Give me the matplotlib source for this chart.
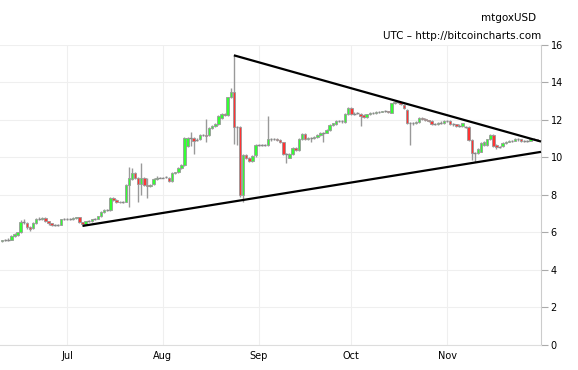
import datetime
import matplotlib
matplotlib.use("Agg")
import matplotlib.pyplot as plt
import matplotlib.dates as mdates
import pandas as pd

# daily candles, mtgoxUSD, starting 10 Jun 2012
start_day = "2012-06-10"

opens = [5.55, 5.58, 5.60, 5.62, 5.80, 5.85, 6.00, 6.55, 6.50, 6.30,
         6.25, 6.50, 6.70, 6.72, 6.75, 6.60, 6.48, 6.40, 6.38, 6.40,
         6.70, 6.70, 6.72, 6.72, 6.75, 6.80, 6.55, 6.45, 6.60, 6.62,
         6.70, 6.72, 6.88, 7.10, 7.20, 7.20, 7.85, 7.75, 7.65, 7.60,
         7.65, 8.55, 8.85, 9.17, 8.90, 8.60, 8.90, 8.55, 8.50, 8.60,
         8.85, 8.93, 8.93, 8.95, 8.93, 8.75, 9.15, 9.20, 9.45, 9.60,
         10.60, 11.04, 11.04, 10.95, 11.00, 11.20, 11.20, 11.20, 11.55, 11.70,
         11.80, 12.10, 12.30, 12.27, 13.20, 13.50, 11.65, 11.63, 8.00, 10.13,
         9.95, 9.80, 10.13, 10.67, 10.67, 10.67, 10.67, 10.97, 10.97, 10.98,
         10.93, 10.80, 10.17, 9.99, 10.20, 10.50, 10.40, 11.00, 11.25, 11.00,
         11.05, 11.05, 11.10, 11.20, 11.33, 11.33, 11.47, 11.73, 11.77, 11.95,
         11.93, 11.91, 12.32, 12.62, 12.32, 12.35, 12.32, 12.25, 12.15, 12.30,
         12.35, 12.35, 12.42, 12.43, 12.46, 12.46, 12.39, 12.89, 12.94, 12.94,
         12.80, 12.53, 11.82, 11.82, 11.82, 11.90, 12.10, 12.06, 11.98, 11.94,
         11.80, 11.78, 11.85, 11.82, 11.95, 11.95, 11.77, 11.77, 11.70, 11.68,
         11.64, 11.64, 10.93, 10.25, 10.22, 10.31, 10.67, 10.67, 10.97, 11.20,
         10.67, 10.55, 10.60, 10.75, 10.84, 10.88, 10.90, 10.97, 10.97, 10.86,
         10.88, 10.90, 10.97, 10.97]

highs = [5.62, 5.65, 5.68, 5.85, 5.95, 6.05, 6.65, 6.70, 6.55, 6.35,
         6.55, 6.75, 6.80, 6.80, 6.80, 6.62, 6.50, 6.45, 6.45, 6.72,
         6.75, 6.75, 6.78, 6.80, 6.85, 6.82, 6.56, 6.62, 6.66, 6.74,
         6.76, 6.90, 7.12, 7.25, 7.25, 7.90, 7.90, 7.78, 7.70, 7.66,
         8.60, 9.50, 9.45, 9.20, 8.95, 9.70, 8.95, 8.90, 8.60, 8.90,
         9.00, 8.98, 8.98, 9.00, 8.95, 9.20, 9.25, 9.48, 9.65, 11.10,
         11.10, 11.38, 11.08, 11.05, 11.25, 11.25, 12.05, 11.60, 11.75, 11.85,
         12.25, 12.35, 12.35, 13.25, 13.69, 15.45, 11.70, 11.66, 10.20, 10.20,
         10.00, 10.15, 10.70, 10.72, 10.72, 10.72, 12.21, 11.02, 11.03, 11.02,
         10.96, 10.84, 10.22, 10.25, 10.55, 10.55, 11.05, 11.30, 11.28, 11.10,
         11.10, 11.15, 11.25, 11.38, 11.38, 11.52, 11.78, 11.86, 12.00, 12.00,
         11.98, 12.36, 12.70, 12.70, 12.40, 12.40, 12.36, 12.30, 12.34, 12.40,
         12.40, 12.46, 12.48, 12.50, 12.52, 12.50, 12.92, 13.02, 13.00, 12.98,
         12.85, 12.58, 11.90, 11.90, 11.95, 12.15, 12.15, 12.10, 12.02, 11.98,
         11.86, 11.90, 11.92, 12.00, 12.00, 11.98, 11.82, 11.80, 11.76, 11.86,
         11.70, 11.68, 10.98, 10.30, 10.48, 10.80, 10.88, 11.00, 11.25, 11.24,
         10.70, 10.60, 10.80, 10.88, 10.92, 10.94, 11.02, 11.02, 11.00, 10.92,
         10.95, 11.02, 11.05, 11.00]

lows = [5.50, 5.52, 5.55, 5.60, 5.75, 5.80, 5.95, 6.45, 6.20, 6.10,
        6.20, 6.45, 6.65, 6.65, 6.55, 6.42, 6.35, 6.33, 6.33, 6.38,
        6.65, 6.65, 6.68, 6.68, 6.70, 6.50, 6.35, 6.42, 6.55, 6.58,
        6.66, 6.70, 6.85, 7.05, 7.15, 7.15, 7.70, 7.55, 7.55, 7.55,
        7.60, 7.36, 8.80, 8.85, 7.63, 8.00, 8.50, 7.84, 8.45, 8.55,
        8.80, 8.88, 8.88, 8.88, 8.70, 8.70, 9.10, 9.15, 9.40, 9.55,
        10.55, 10.60, 10.19, 10.90, 10.95, 11.12, 10.85, 11.15, 11.50, 11.65,
        11.75, 12.05, 12.20, 12.20, 13.15, 10.70, 10.67, 7.90, 7.64, 9.90,
        9.75, 9.75, 10.05, 10.60, 10.60, 10.60, 10.62, 10.90, 10.92, 10.88,
        10.75, 10.12, 9.70, 9.95, 10.15, 10.35, 10.35, 10.95, 10.95, 10.95,
        10.80, 11.00, 11.05, 11.15, 10.85, 11.28, 11.42, 11.68, 11.72, 11.88,
        11.86, 11.86, 12.28, 12.28, 12.28, 12.30, 11.68, 12.10, 12.10, 12.25,
        12.30, 12.30, 12.38, 12.40, 12.40, 12.38, 12.35, 12.85, 12.88, 12.80,
        12.58, 11.78, 10.67, 11.75, 11.78, 11.85, 12.00, 11.94, 11.90, 11.72,
        11.75, 11.72, 11.80, 11.78, 11.88, 11.72, 11.70, 11.62, 11.65, 11.64,
        11.58, 10.88, 9.86, 9.78, 10.18, 10.28, 10.62, 10.62, 10.92, 10.55,
        10.45, 10.48, 10.55, 10.70, 10.80, 10.84, 10.86, 10.90, 10.82, 10.82,
        10.84, 10.86, 10.92, 10.88]

closes = [5.58, 5.60, 5.62, 5.80, 5.90, 6.00, 6.55, 6.56, 6.30, 6.20,
          6.50, 6.70, 6.72, 6.75, 6.60, 6.48, 6.40, 6.38, 6.40, 6.70,
          6.70, 6.72, 6.72, 6.75, 6.80, 6.55, 6.45, 6.60, 6.62, 6.70,
          6.72, 6.88, 7.10, 7.20, 7.20, 7.85, 7.75, 7.65, 7.60, 7.62,
          8.55, 8.90, 9.17, 8.90, 8.60, 8.90, 8.55, 8.50, 8.55, 8.85,
          8.93, 8.93, 8.95, 8.93, 8.75, 9.15, 9.20, 9.45, 9.60, 11.04,
          11.04, 11.05, 10.90, 10.97, 11.20, 11.20, 11.15, 11.55, 11.70, 11.80,
          12.20, 12.30, 12.27, 13.20, 13.50, 11.65, 11.63, 8.00, 10.13, 9.95,
          9.80, 10.10, 10.67, 10.67, 10.67, 10.65, 10.97, 10.97, 10.98, 10.93,
          10.80, 10.17, 10.15, 10.20, 10.50, 10.40, 11.00, 11.25, 11.00, 11.05,
          11.05, 11.10, 11.20, 11.33, 11.33, 11.47, 11.73, 11.82, 11.95, 11.93,
          11.91, 12.32, 12.62, 12.32, 12.35, 12.35, 12.20, 12.15, 12.30, 12.35,
          12.36, 12.42, 12.43, 12.46, 12.46, 12.42, 12.89, 12.94, 12.94, 12.85,
          12.62, 11.82, 11.82, 11.85, 11.90, 12.10, 12.06, 11.98, 11.94, 11.80,
          11.80, 11.85, 11.86, 11.95, 11.92, 11.77, 11.76, 11.68, 11.72, 11.82,
          11.64, 10.93, 10.22, 10.22, 10.43, 10.75, 10.84, 10.97, 11.20, 10.60,
          10.55, 10.55, 10.75, 10.84, 10.88, 10.90, 10.97, 10.97, 10.86, 10.88,
          10.90, 10.97, 10.97, 10.93]

# hand drawn triangle (date, price)
upper_line = [("2012-08-24", 15.45), ("2012-12-01 10:00", 10.85)]
lower_line = [("2012-07-06", 6.35), ("2012-12-01 10:00", 10.30)]

month_ticks = ["2012-07-01", "2012-08-01", "2012-09-01", "2012-10-01", "2012-11-01"]
month_labels = ["Jul", "Aug", "Sep", "Oct", "Nov"]

x_from = "2012-06-09 07:00"
x_to = "2012-12-01 10:00"


def dnum(s):
    return mdates.date2num(pd.Timestamp(s).to_pydatetime())


days = mdates.date2num(pd.date_range(start_day, periods=len(closes)).to_pydatetime())

fig = plt.figure(figsize=(5.78, 3.70), dpi=100)
ax = fig.add_axes([0.0, 0.0676, 0.936, 0.8108])

wick = "#999999"
for x, o, h, l, c in zip(days, opens, highs, lows, closes):
    ax.vlines(x, l, h, color=wick, lw=1, zorder=2)
    if abs(c - o) < 0.03:
        ax.hlines(o, x - 0.45, x + 0.45, color="#888888", lw=1, zorder=3)
    else:
        col = "#33ff33" if c > o else "#ff3333"
        ax.bar(x, abs(c - o), bottom=min(o, c), width=0.8, color=col,
               edgecolor=wick, linewidth=0.6, zorder=3)

for pts in (upper_line, lower_line):
    xs = [dnum(p[0]) for p in pts]
    ys = [p[1] for p in pts]
    ax.plot(xs, ys, color="black", lw=1.6, solid_capstyle="butt", zorder=4, clip_on=False)

ax.set_xlim(dnum(x_from), dnum(x_to))
ax.set_ylim(0, 16)
ax.set_yticks(range(0, 17, 2))
ax.set_xticks([dnum(m) for m in month_ticks])
ax.set_xticklabels(month_labels)

ax.yaxis.tick_right()
ax.tick_params(axis="y", direction="out", length=5, width=0.8, color="#aaaaaa",
               labelsize=7, pad=2)
ax.tick_params(axis="x", length=0, labelsize=7, pad=4)
ax.grid(True, color="#efefef", lw=0.8, zorder=0)
ax.set_axisbelow(True)

for s in ("top", "left"):
    ax.spines[s].set_visible(False)
ax.spines["right"].set_color("#cccccc")
ax.spines["bottom"].set_color("#dddddd")

fig.text(536 / 578, 1 - 18 / 370, "mtgoxUSD", ha="right", va="center", fontsize=7.5)
fig.text(541 / 578, 1 - 36 / 370, "UTC \u2013 http://bitcoincharts.com", ha="right",
         va="center", fontsize=7.5)

fig.savefig("out.png", dpi=100)
